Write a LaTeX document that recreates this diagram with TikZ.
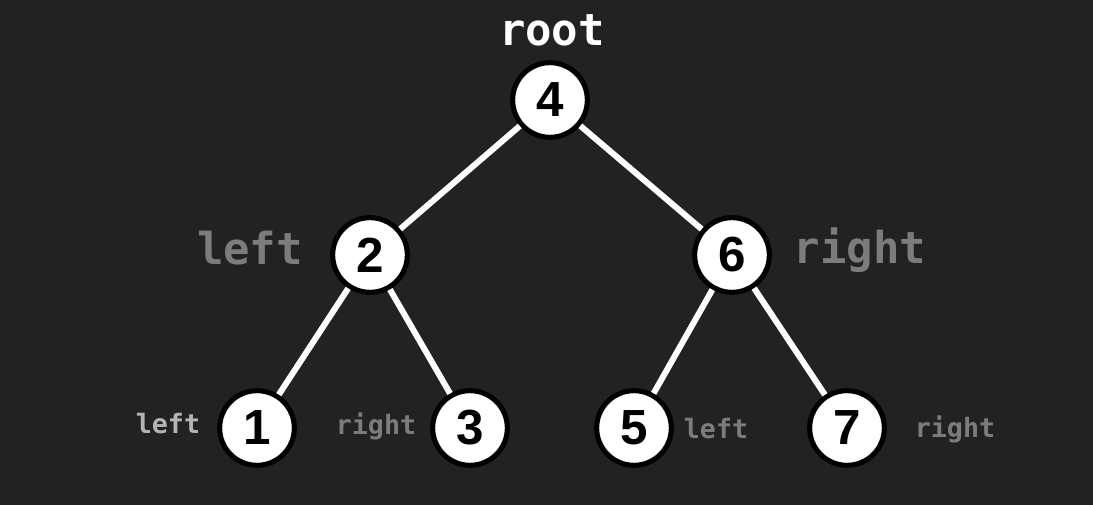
\documentclass[tikz,border=0pt]{standalone}
\usepackage{fontspec}
\setmainfont{Liberation Sans}
\newfontfamily\codefont{DejaVu Sans Mono}
\definecolor{board}{HTML}{222222}
\definecolor{chalkgray}{HTML}{7C7C7C}
\definecolor{chalklight}{HTML}{B4B4B4}
\begin{document}
\begin{tikzpicture}[x=0.75pt,y=-0.75pt]
	\tikzstyle{place}=[circle, draw=black, fill=white, line width=3.8pt, minimum size=56pt, inner sep=0pt, font=\fontsize{37}{37}\selectfont\bfseries]
	\tikzstyle{bigtag}=[anchor=base, inner sep=0pt, font=\codefont\fontsize{33}{33}\selectfont\bfseries]
	\tikzstyle{smalltag}=[anchor=base, inner sep=0pt, font=\codefont\fontsize{20}{20}\selectfont\bfseries]
	% Board
	\fill[board] (0,0) rectangle (1093,505);
	\useasboundingbox (0,0) rectangle (1093,505);
	% Nodes
	\node at (550,100) [place] (n4) {4};
	\node at (370,255) [place] (n2) {2};
	\node at (732,255) [place] (n6) {6};
	\node at (257,428) [place] (n1) {1};
	\node at (470,428) [place] (n3) {3};
	\node at (634,428) [place] (n5) {5};
	\node at (847,428) [place] (n7) {7};
	%---------------------%
	% Edges
	\foreach \i/\j in {4/2,4/6,2/1,2/3,6/5,6/7}
		\draw[white, line width=4.5pt] (n\i) to (n\j);
	%---------------------%
	% Labels
	\node at (552,46) [bigtag, white] (rootlbl) {root};
	\node at (250,265) [bigtag, chalkgray] (leftlbl) {left};
	\node at (860,264) [bigtag, chalkgray] (rightlbl) {right};
	\node at (168,434) [smalltag, chalklight] (left1) {left};
	\node at (376,435) [smalltag, chalkgray] (right3) {right};
	\node at (716,439) [smalltag, chalkgray] (left5) {left};
	\node at (955,438) [smalltag, chalkgray] (right7) {right};
\end{tikzpicture}
\end{document}
